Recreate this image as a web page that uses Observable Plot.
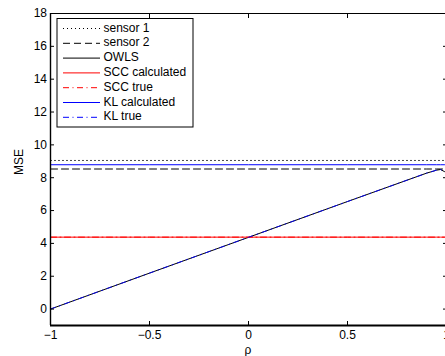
<!DOCTYPE html>
<html><head><meta charset="utf-8">
<script src="https://cdn.jsdelivr.net/npm/d3@7"></script>
<script src="https://cdn.jsdelivr.net/npm/@observablehq/plot@0.6"></script>
<style>
html,body{margin:0;padding:0;background:#fff;}
#chart{position:relative;width:445px;height:356px;overflow:hidden;}
#chart svg, #chart svg text{font-family:"Liberation Sans",Arial,Helvetica,sans-serif;}
</style></head><body><div id="chart"></div>
<script>
// correlation coefficient values (x)
const rho = [-1, -0.5, 0, 0.5, 0.9, 0.95, 0.97, 0.99];
// MSE series
const sensor1 = [9.05, 9.05, 9.05, 9.05, 9.05, 9.05, 9.05, 9.05];
const sensor2 = [8.53, 8.53, 8.53, 8.53, 8.53, 8.53, 8.53, 8.53];
const owls = [0, 2.19, 4.37, 6.55, 8.28, 8.46, 8.50, 8.37];
const sccCalculated = [4.38, 4.38, 4.38, 4.38, 4.38, 4.38, 4.38, 4.38];
const sccTrue = [4.38, 4.38, 4.38, 4.38, 4.38, 4.38, 4.38, 4.38];
const klCalculated = [8.79, 8.79, 8.79, 8.79, 8.79, 8.79, 8.79, 8.79];
const klTrue = [0, 2.19, 4.37, 6.55, 8.28, 8.46, 8.50, 8.37];

const seriesNames = ["sensor 1", "sensor 2", "OWLS", "SCC calculated", "SCC true", "KL calculated", "KL true"];
const seriesValues = [sensor1, sensor2, owls, sccCalculated, sccTrue, klCalculated, klTrue];
const seriesColors = ["#000000", "#000000", "#000000", "#ff0000", "#ff0000", "#0000ff", "#0000ff"];
const seriesDash = ["1,3", "7,4", null, null, "6,3.5,1,3.5", null, "5,4.5,1,4.5"];
const legendDash = ["1,3", "7,4", null, null, "6,3.5,1,3.5", null, "6,3.5,1,3.5"];
const seriesWidth = [0.8, 1, 1, 1, 1, 1, 0.9];

const xTicks = [-1, -0.5, 0, 0.5, 1];
const yTicks = [0, 2, 4, 6, 8, 10, 12, 14, 16, 18];
const xDomain = [-1, 1];
const yDomain = [-1, 18];

const lineMarks = seriesNames.map((name, i) => {
  const data = rho.map((r, j) => ({rho: r, mse: seriesValues[i][j], series: name}));
  return Plot.line(data, {x: "rho", y: "mse", stroke: seriesColors[i], strokeWidth: seriesWidth[i],
    strokeDasharray: seriesDash[i] || undefined});
});

const fmt = d3.format("~g");

const plot = Plot.plot({
  width: 445, height: 356,
  marginLeft: 50, marginRight: -1, marginTop: 13, marginBottom: 31,
  style: {fontSize: "12px", fontFamily: "'Liberation Sans', Arial, Helvetica, sans-serif", color: "#000", background: "#fff"},
  x: {domain: xDomain},
  y: {domain: yDomain},
  marks: [
    ...lineMarks,
    Plot.frame({stroke: "#000", strokeWidth: 1}),
    Plot.ruleY([yDomain[0]], {stroke: "#000", strokeWidth: 2}),
    Plot.ruleX([xDomain[0]], {stroke: "#000", strokeWidth: 1.4}),
    Plot.axisX({ticks: xTicks, tickSize: -4, tickPadding: 8.5, tickFormat: fmt, label: null}),
    Plot.axisX({anchor: "top", ticks: xTicks, tickSize: -4, tickFormat: () => "", label: null}),
    Plot.axisY({ticks: yTicks, tickSize: -4, tickPadding: 7.5, tickFormat: fmt, label: null}),
    Plot.axisY({anchor: "right", ticks: yTicks, tickSize: -4, tickFormat: () => "", label: null})
  ]
});
document.getElementById("chart").appendChild(plot);

// axis titles and legend
const svg = d3.select(plot);
svg.append("text").attr("transform", "translate(20,162) rotate(-90)")
  .attr("text-anchor", "middle").attr("dominant-baseline", "middle")
  .attr("font-size", 12).attr("fill", "#000").text("MSE");
svg.append("text").attr("x", 248).attr("y", 351)
  .attr("text-anchor", "middle").attr("dominant-baseline", "middle")
  .attr("font-size", 12).attr("fill", "#000").text("ρ");

const lg = svg.append("g");
lg.append("rect").attr("x", 57).attr("y", 18.5).attr("width", 136).attr("height", 108.5)
  .attr("fill", "#fff").attr("stroke", "#000").attr("stroke-width", 1);
seriesNames.forEach((name, i) => {
  const cy = 28.5 + i * 14.8;
  lg.append("line").attr("x1", 63).attr("x2", 100).attr("y1", cy).attr("y2", cy)
    .attr("stroke", seriesColors[i]).attr("stroke-width", 1)
    .attr("stroke-dasharray", legendDash[i]);
  lg.append("text").attr("x", 103.5).attr("y", cy).attr("text-anchor", "start")
    .attr("dominant-baseline", "middle")
    .attr("font-size", 12).attr("fill", "#000").text(name);
});
</script>
</body></html>
